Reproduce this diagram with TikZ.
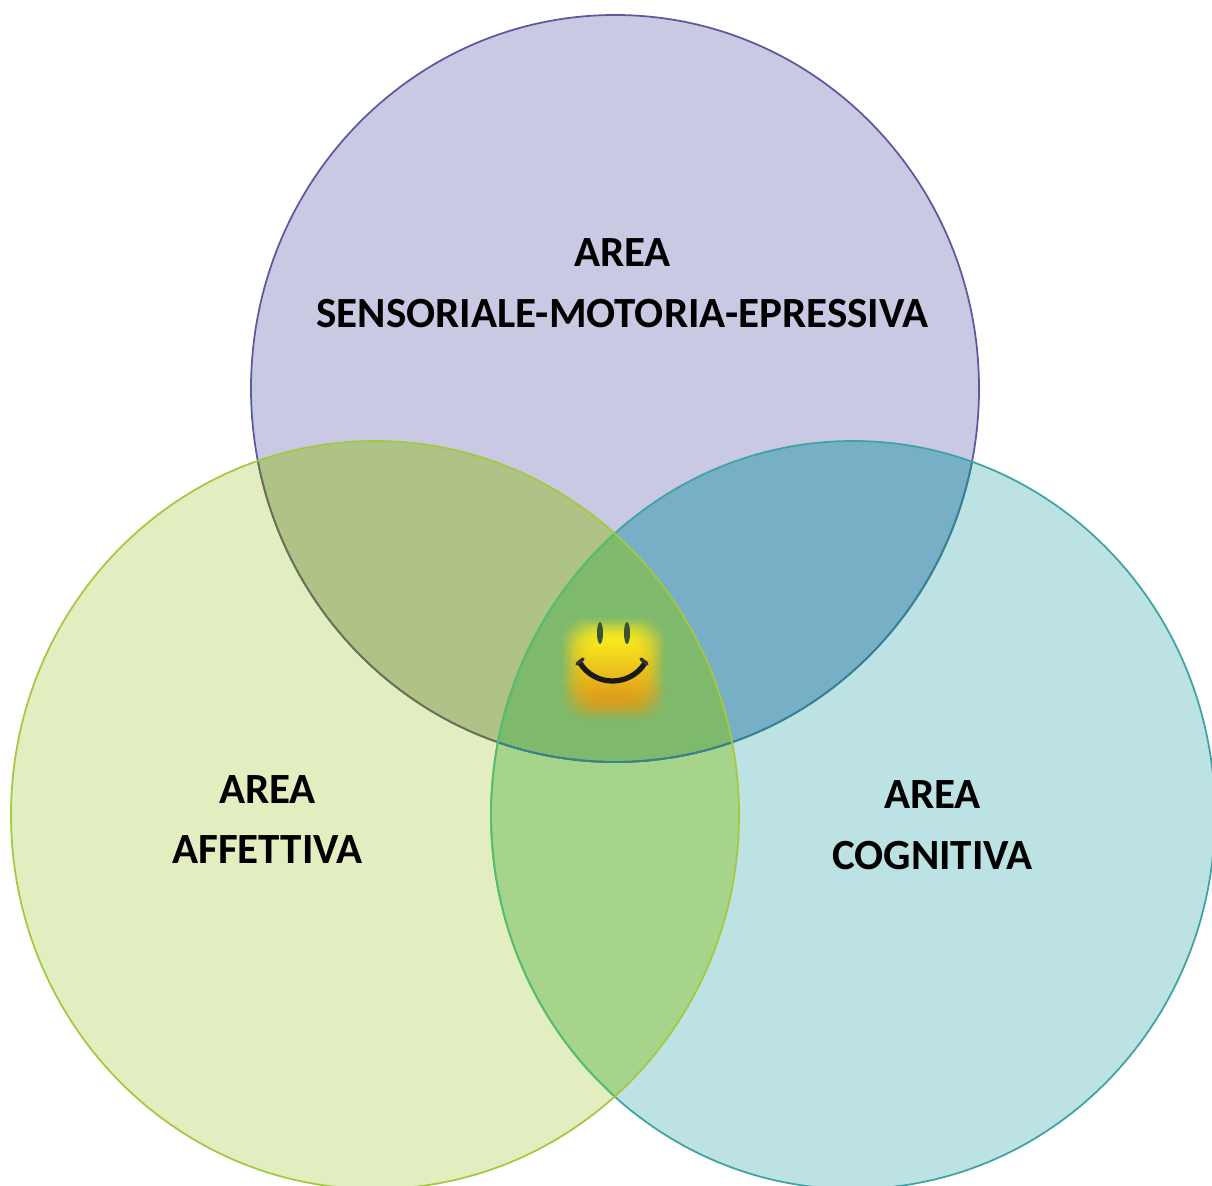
\documentclass[tikz,border=0pt]{standalone}
\usepackage{fontspec}
\setmainfont{Carlito}
\usetikzlibrary{positioning}
\definecolor{topfill}{HTML}{C9C9E4}
\definecolor{leftfill}{HTML}{E3EEC0}
\definecolor{rightfill}{HTML}{BCE2E4}
\definecolor{tlfill}{HTML}{B0C386}
\definecolor{trfill}{HTML}{77B0C6}
\definecolor{lrfill}{HTML}{A6D48A}
\definecolor{midfill}{HTML}{7FB96C}
\definecolor{topline}{HTML}{5A5A9E}
\definecolor{leftline}{HTML}{A4C840}
\definecolor{rightline}{HTML}{3FA3A3}
\definecolor{glowtop}{HTML}{FFEE1E}
\definecolor{glowmid}{HTML}{FFD018}
\definecolor{glowlow}{HTML}{E09A18}
\newcommand{\topellipse}{(615,388.5) ellipse (364 and 373.5)}
\newcommand{\leftellipse}{(375,815) ellipse (364 and 374)}
\newcommand{\rightellipse}{(853,815) ellipse (362 and 374)}
\begin{document}
\begin{tikzpicture}
[x=0.02cm, y=-0.02cm, line width=1pt,
areatext/.style={font=\fontsize{24.5}{34.6}\selectfont\bfseries, align=center, text=black, inner sep=0pt},
eye/.style={fill=black!55!midfill, draw=none}
]
\useasboundingbox (0,0) rectangle (1212,1185);

% plain areas
\fill[topfill] \topellipse;
\fill[rightfill] \rightellipse;
\fill[leftfill] \leftellipse;

% overlaps
\begin{scope}
\clip \topellipse;
\fill[tlfill] \leftellipse;
\fill[trfill] \rightellipse;
\end{scope}
\begin{scope}
\clip \leftellipse;
\fill[lrfill] \rightellipse;
\begin{scope}
\clip \topellipse;
\fill[midfill] \rightellipse;
\end{scope}
\end{scope}

% outlines
\draw[color=topline] \topellipse;
\begin{scope}
\clip \leftellipse;
\draw[color=black!40!tlfill] \topellipse;
\end{scope}
\begin{scope}
\clip \rightellipse;
\draw[color=black!15!teal!60!trfill] \topellipse;
\end{scope}
\draw[color=rightline] \rightellipse;
\begin{scope}
\clip \leftellipse;
\draw[color=rightline!60!green!45!midfill] \rightellipse;
\end{scope}
\draw[color=leftline] \leftellipse;

% smiley glow
\foreach \i in {0,...,13}
  \shade[top color=glowtop, middle color=glowmid, bottom color=glowlow, opacity={0.03+\i*0.03}, rounded corners=14]
    ({560+\i*1.9},{616+\i*1.9}) rectangle ({667-\i*1.9},{722-\i*1.9});
\fill[eye] (600,633) ellipse (3 and 11);
\fill[eye] (627,633) ellipse (3 and 11);
\draw[black!90, line width=3pt, line cap=round] (580,663) .. controls (595,687) and (630,687) .. (645,663);
\draw[black!80, line width=2pt, line cap=round] (577,664) -- (583,659);
\draw[black!80, line width=2pt, line cap=round] (641,659) -- (647,664);

% labels
\node[areatext] (topname) at (622.5,283.5) {AREA\\SENSORIALE-MOTORIA-EPRESSIVA};
\node[areatext] (leftname) at (267.5,819.5) {AREA\\AFFETTIVA};
\node[areatext] (rightname) at (932.5,825.5) {AREA\\COGNITIVA};
\end{tikzpicture}
\end{document}
